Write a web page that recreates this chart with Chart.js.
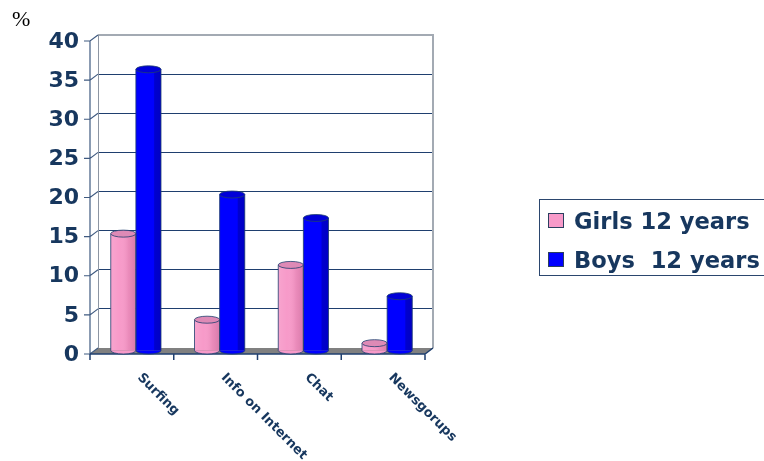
<!DOCTYPE html>
<html>
<head>
<meta charset="utf-8">
<script src="https://cdn.jsdelivr.net/npm/chart.js@4/dist/chart.umd.min.js"></script>
<style>
  html, body { margin: 0; padding: 0; background: #fff; }
  #wrap { position: relative; width: 764px; height: 461px; overflow: hidden; }
  #pct { position: absolute; left: 12px; top: 6px; font: 22px "Liberation Serif", "Times New Roman", serif; color: #000; }
  #legend { position: absolute; left: 539px; top: 199px; width: 260px; height: 77px; border: 1px solid #2b466e; border-right: none; box-sizing: border-box; }
  .sw { position: absolute; left: 8px; width: 16px; height: 15px; border: 1px solid #2b3f60; box-sizing: border-box; }
  .tx { position: absolute; left: 34px; font: bold 22.6px "DejaVu Sans", sans-serif; line-height: 22px; color: #17375E; white-space: pre; }
</style>
</head>
<body>
<div id="wrap">
  <canvas id="c" width="764" height="461"></canvas>
  <div id="pct">%</div>
  <div id="legend"></div>
</div>
<script>
// ---- data ----
const categories = ['Surfing', 'Info on Internet', 'Chat', 'Newsgorups'];
const seriesNames = ['Girls 12 years', 'Boys  12 years'];
const girls = [15, 4, 11, 1];
const boys = [36, 20, 17, 7];
const yMin = 0, yMax = 40, yStep = 5;

const pinkColor = '#F79AC9';
const blueColor = '#0000FF';
const navy = '#17375E';

// legend (HTML)
const legend = document.getElementById('legend');
[[seriesNames[0], pinkColor, 13], [seriesNames[1], blueColor, 52]].forEach(([name, col, top]) => {
  const sw = document.createElement('div');
  sw.className = 'sw'; sw.style.top = top + 'px'; sw.style.background = col;
  legend.appendChild(sw);
  const tx = document.createElement('div');
  tx.className = 'tx'; tx.style.top = (top - 3) + 'px'; tx.textContent = name;
  legend.appendChild(tx);
});

const DX = -8, DY = 6; // 3D depth offset (front relative to back wall)

const threeD = {
  id: 'threeD',
  beforeDatasetsDraw(chart) {
    const { ctx, chartArea: a, scales } = chart;
    const y = scales.y;
    ctx.save();
    // floor
    ctx.fillStyle = '#808080';
    ctx.beginPath();
    ctx.moveTo(a.left, a.bottom);
    ctx.lineTo(a.right, a.bottom);
    ctx.lineTo(a.right + DX, a.bottom + DY);
    ctx.lineTo(a.left + DX, a.bottom + DY);
    ctx.closePath();
    ctx.fill();
    // back wall edges
    ctx.strokeStyle = '#A3AAB3';
    ctx.lineWidth = 2;
    ctx.beginPath();
    ctx.moveTo(a.left, a.top); ctx.lineTo(a.right, a.top); ctx.lineTo(a.right, a.bottom);
    ctx.stroke();
    ctx.lineWidth = 1;
    ctx.strokeStyle = '#8D96A3';
    ctx.beginPath();
    ctx.moveTo(a.left + 0.5, a.top); ctx.lineTo(a.left + 0.5, a.bottom);
    ctx.stroke();
    // front y axis line with diagonals and ticks
    ctx.strokeStyle = '#3F5A80';
    ctx.lineWidth = 1.2;
    const fx = a.left + DX;
    ctx.beginPath();
    ctx.moveTo(fx, y.getPixelForValue(yMax) + DY);
    ctx.lineTo(fx, a.bottom + DY);
    for (let v = yMin; v <= yMax; v += yStep) {
      const py = y.getPixelForValue(v);
      ctx.moveTo(fx - 6, py + DY);
      ctx.lineTo(fx, py + DY);
      ctx.lineTo(a.left, py);
    }
    ctx.stroke();
    // front x axis line with ticks
    ctx.strokeStyle = '#1F3F6F';
    ctx.lineWidth = 1.5;
    ctx.beginPath();
    ctx.moveTo(a.left + DX, a.bottom + DY);
    ctx.lineTo(a.right + DX, a.bottom + DY);
    ctx.lineTo(a.right, a.bottom);
    const n = categories.length;
    for (let i = 0; i <= n; i++) {
      const px = a.left + (a.right - a.left) * i / n + DX;
      ctx.moveTo(px, a.bottom + DY);
      ctx.lineTo(px, a.bottom + DY + 6);
    }
    ctx.stroke();
    ctx.restore();
    // bars sit midway in depth
    ctx.save();
    ctx.translate(DX / 2, DY / 2);
  },
  afterDatasetsDraw(chart) {
    const { ctx, chartArea: a, scales } = chart;
    chart.data.datasets.forEach((ds, di) => {
      const meta = chart.getDatasetMeta(di);
      const topCol = di === 0 ? '#DE8AB6' : '#0000D8';
      meta.data.forEach(el => {
        const { x, y, base, width } = el.getProps(['x', 'y', 'base', 'width'], true);
        const l = x - width / 2, r = x + width / 2;
        const ry = 3.5;
        const g = ctx.createLinearGradient(l, 0, r, 0);
        if (di === 0) {
          g.addColorStop(0, 'rgba(255,255,255,0.10)');
          g.addColorStop(0.35, 'rgba(255,255,255,0.0)');
          g.addColorStop(0.7, 'rgba(150,40,90,0.12)');
          g.addColorStop(1, 'rgba(120,30,80,0.25)');
        } else {
          g.addColorStop(0, 'rgba(0,0,0,0)');
          g.addColorStop(0.7, 'rgba(0,0,0,0)');
          g.addColorStop(0.75, 'rgba(0,0,60,0.25)');
          g.addColorStop(1, 'rgba(0,0,60,0.3)');
        }
        ctx.fillStyle = g;
        ctx.fillRect(l, y, width, base - y);
        ctx.fillStyle = di === 0 ? pinkColor : blueColor;
        ctx.beginPath();
        ctx.ellipse(x, base, width / 2, ry, 0, 0, Math.PI);
        ctx.fill();
        ctx.strokeStyle = '#1F3F6F';
        ctx.lineWidth = 0.8;
        ctx.beginPath();
        ctx.moveTo(l, y); ctx.lineTo(l, base);
        ctx.ellipse(x, base, width / 2, ry, 0, Math.PI, 0, true);
        ctx.lineTo(r, y);
        ctx.stroke();
        ctx.fillStyle = topCol;
        ctx.beginPath();
        ctx.ellipse(x, y, width / 2, ry, 0, 0, Math.PI * 2);
        ctx.fill();
        ctx.stroke();
      });
    });
    ctx.restore();
    // category labels rotated 45deg clockwise
    const xs = scales.x;
    ctx.save();
    ctx.fillStyle = navy;
    ctx.font = 'bold 13px "DejaVu Sans", sans-serif';
    ctx.textAlign = 'left';
    ctx.textBaseline = 'top';
    categories.forEach((c, i) => {
      const px = xs.getPixelForValue(i) + 4;
      const py = a.bottom + 23;
      ctx.save();
      ctx.translate(px, py);
      ctx.rotate(Math.PI / 4);
      ctx.fillText(c, 0, 0);
      ctx.restore();
    });
    ctx.restore();
  }
};

new Chart(document.getElementById('c'), {
  type: 'bar',
  data: {
    labels: categories,
    datasets: [
      { label: seriesNames[0], data: girls, backgroundColor: pinkColor, borderWidth: 0,
        categoryPercentage: 0.6, barPercentage: 1.0 },
      { label: seriesNames[1], data: boys, backgroundColor: blueColor, borderWidth: 0,
        categoryPercentage: 0.6, barPercentage: 1.0 }
    ]
  },
  options: {
    responsive: false,
    animation: false,
    devicePixelRatio: 1,
    layout: { padding: { left: 0, right: 331, top: 35, bottom: 113 } },
    plugins: { legend: { display: false }, tooltip: { enabled: false } },
    scales: {
      x: { display: false },
      y: {
        min: yMin, max: yMax,
        afterFit(s) { s.width = 98; },
        border: { display: false },
        grid: {
          drawTicks: false,
          color: ctx => (ctx.tick && ctx.tick.value === yMax) ? 'rgba(0,0,0,0)' : '#1F3F6F',
          lineWidth: 1
        },
        ticks: {
          stepSize: yStep,
          padding: 19,
          labelOffset: 7,
          color: navy,
          font: { family: '"DejaVu Sans", sans-serif', size: 22, weight: 'bold' }
        }
      }
    }
  },
  plugins: [threeD]
});
</script>
</body>
</html>
